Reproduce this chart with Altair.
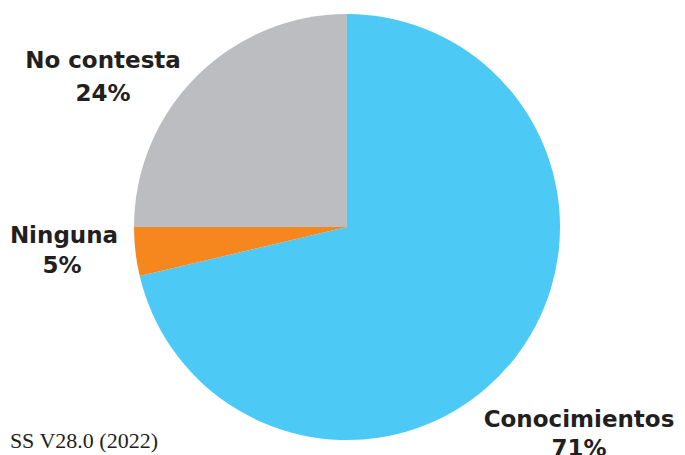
import altair as alt
import pandas as pd

categories = ["Conocimientos", "Ninguna", "No contesta"]
values = [71.3, 3.7, 25.0]
pct_labels = ["71%", "5%", "24%"]
colors = ["#4CC9F5", "#F6871F", "#BCBDC1"]
source_text = "SS V28.0 (2022)"

df = pd.DataFrame({"cat": categories, "val": values, "ord": [0, 1, 2]})

W, H = 669, 447
CX, CY = 339, 219

pie = alt.Chart(df).mark_arc(outerRadius=213, x=CX, y=CY).encode(
    theta=alt.Theta("val:Q", stack=True),
    order=alt.Order("ord:Q"),
    color=alt.Color("cat:N", scale=alt.Scale(domain=categories, range=colors), legend=None),
)

lab = pd.DataFrame({
    "l1": categories,
    "l2": pct_labels,
    "x1": [571, 56, 95],
    "y1": [419, 235, 60],
    "x2": [571, 54, 95],
    "y2": [448, 265, 93],
})

t1 = alt.Chart(lab).mark_text(
    font="DejaVu Sans", fontWeight="bold", fontSize=23, color="#231F20",
    align="center", baseline="alphabetic"
).encode(x=alt.X("x1:Q", scale=None), y=alt.Y("y1:Q", scale=None), text="l1:N")

t2 = alt.Chart(lab).mark_text(
    font="DejaVu Sans", fontWeight="bold", fontSize=23, color="#231F20",
    align="center", baseline="alphabetic"
).encode(x=alt.X("x2:Q", scale=None), y=alt.Y("y2:Q", scale=None), text="l2:N")

src = alt.Chart(pd.DataFrame({"t": [source_text]})).mark_text(
    font="Liberation Serif", fontSize=22, color="#231F20", align="right", baseline="alphabetic"
).encode(x=alt.value(150), y=alt.value(440), text="t:N")

chart = alt.layer(pie, t1, t2, src).properties(
    width=W, height=H, autosize=alt.AutoSizeParams(type="none"), padding=0
).configure_view(stroke=None)

chart.save("out.html", embed_options={"renderer": "svg", "actions": False})
